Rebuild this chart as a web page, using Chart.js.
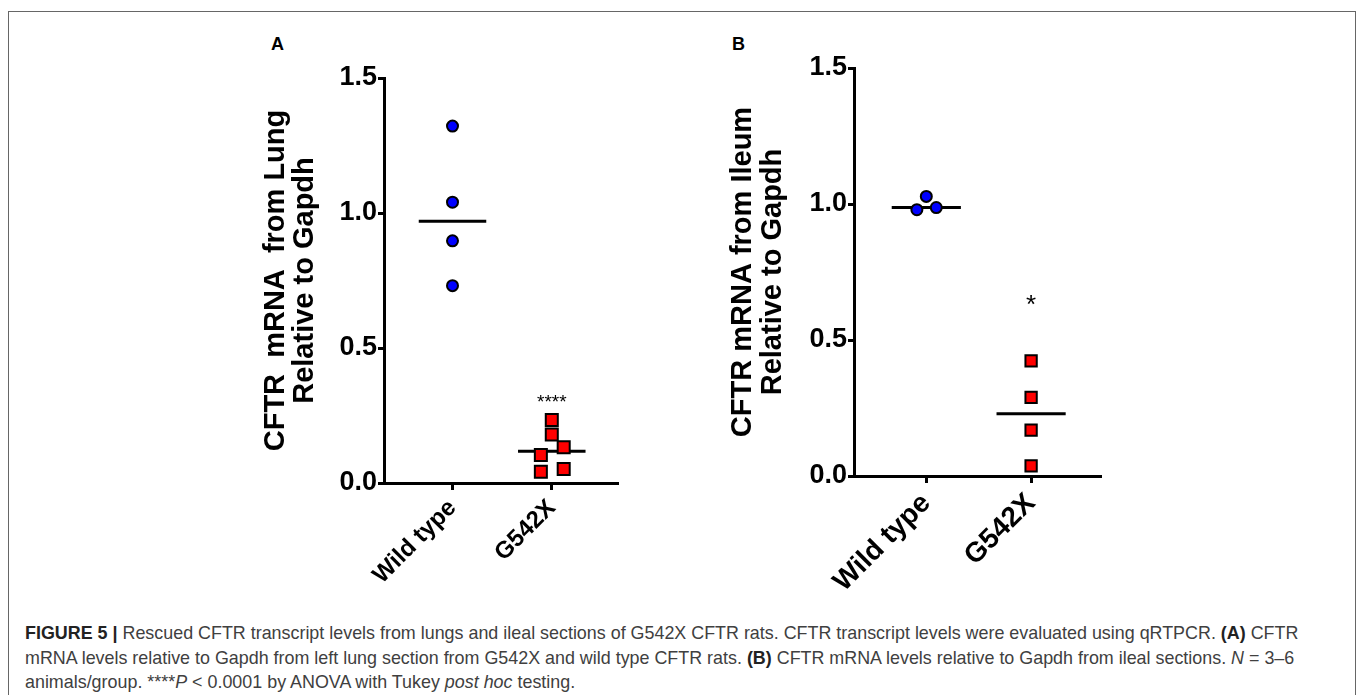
<!DOCTYPE html>
<html>
<head>
<meta charset="utf-8">
<script src="https://cdn.jsdelivr.net/npm/chart.js@4.4.1/dist/chart.umd.min.js"></script>
<style>
  body { margin: 0; width: 1357px; height: 695px; background: #fff; position: relative; overflow: hidden;
         font-family: "Liberation Sans", Arial, sans-serif; }
  #marco { position: absolute; left: 8px; top: 11px; width: 1346px; height: 720px;
           border: 1.5px solid #666; border-bottom: none; }
  .panel { position: absolute; }
  .letra { position: absolute; font-weight: bold; font-size: 18px; color: #000; line-height: 1; }
  #leyenda { position: absolute; left: 25px; top: 621px; font-size: 17.9px; line-height: 24.5px;
             color: #404040; white-space: nowrap; }
  #leyenda b { color: #222; }
</style>
</head>
<body>
<div id="marco"></div>
<div class="letra" style="left:271px;top:35px">A</div>
<div class="letra" style="left:732px;top:35px">B</div>
<canvas id="graficoA" class="panel" width="420" height="570" style="left:230px;top:20px"></canvas>
<canvas id="graficoB" class="panel" width="440" height="570" style="left:700px;top:20px"></canvas>
<div id="leyenda">
<b>FIGURE 5 |</b> Rescued CFTR transcript levels from lungs and ileal sections of G542X CFTR rats. CFTR transcript levels were evaluated using qRTPCR. <b>(A)</b> CFTR<br>
mRNA levels relative to Gapdh from left lung section from G542X and wild type CFTR rats. <b>(B)</b> CFTR mRNA levels relative to Gapdh from ileal sections. <i>N</i> = 3–6<br>
animals/group. ****<i>P</i> &lt; 0.0001 by ANOVA with Tukey <i>post hoc</i> testing.
</div>
<script>
// Grupos
const grupos = ['Wild type', 'G542X'];
const ticksY = [0, 0.5, 1.0, 1.5];

// Panel A - pulmon
const pulmonWT = [1.322, 1.040, 0.897, 0.731];
const pulmonWTdx = [0, 0, 0, 0];
const pulmonG542X = [0.233, 0.180, 0.132, 0.104, 0.042, 0.052];
const pulmonG542Xdx = [0, 0, 0.12, -0.11, -0.11, 0.12];
const pulmonMediana = [0.969, 0.118];
const pulmonSig = ['', '****'];
const pulmonSigNivel = [null, 0.318];

// Panel B - ileon
const ileonWT = [0.979, 1.028, 0.987];
const ileonWTdx = [-0.09, 0, 0.095];
const ileonG542X = [0.423, 0.289, 0.169, 0.037];
const ileonG542Xdx = [0, 0, 0, 0];
const ileonMediana = [0.987, 0.229];
const ileonSig = ['', '*'];
const ileonSigNivel = [null, 0.653];

const FUENTE = '"Liberation Sans", Arial, sans-serif';

function puntos(valores, dx, grupo) {
    return valores.map((v, i) => ({ x: grupo + dx[i], y: v }));
}

function lineaMediana(med, grupo, ancho) {
    return {
        type: 'line',
        data: [{ x: grupo - ancho, y: med }, { x: grupo + ancho, y: med }],
        borderColor: '#000',
        borderWidth: 3,
        pointRadius: 0,
        showLine: true,
        fill: false
    };
}

// Asteriscos de significancia sobre cada grupo
const pluginSig = {
    id: 'sig',
    afterDatasetsDraw(chart, args, opts) {
        const ctx = chart.ctx;
        const xs = chart.scales.x, ys = chart.scales.y;
        ctx.save();
        ctx.fillStyle = '#000';
        ctx.textAlign = 'center';
        ctx.textBaseline = 'alphabetic';
        ctx.font = opts.size + 'px ' + FUENTE;
        opts.textos.forEach((t, i) => {
            if (!t) return;
            const x = xs.getPixelForValue(i);
            const y = ys.getPixelForValue(opts.niveles[i]) + opts.size * 0.58;
            ctx.fillText(t, x, y);
        });
        ctx.restore();
    }
};

function crearGrafico(id, cfg) {
    const ctx = document.getElementById(id).getContext('2d');
    return new Chart(ctx, {
        type: 'scatter',
        data: {
            datasets: [
                {
                    data: puntos(cfg.wt, cfg.wtDx, 0),
                    pointStyle: 'circle',
                    pointRadius: cfg.radioCirculo,
                    backgroundColor: '#0000ff',
                    borderColor: '#000',
                    borderWidth: 2
                },
                {
                    data: puntos(cfg.mut, cfg.mutDx, 1),
                    pointStyle: 'rect',
                    pointRadius: cfg.radioCuadro,
                    backgroundColor: '#ff0000',
                    borderColor: '#000',
                    borderWidth: 2
                },
                lineaMediana(cfg.mediana[0], 0, cfg.anchoMediana),
                lineaMediana(cfg.mediana[1], 1, cfg.anchoMediana)
            ]
        },
        options: {
            responsive: false,
            animation: false,
            layout: { padding: cfg.padding },
            plugins: {
                legend: { display: false },
                tooltip: { enabled: false },
                sig: { textos: cfg.sig, niveles: cfg.sigNivel, size: cfg.sigSize }
            },
            scales: {
                x: {
                    type: 'linear',
                    min: -0.69,
                    max: 1.667,
                    afterBuildTicks: s => { s.ticks = grupos.map((g, i) => ({ value: i })); },
                    afterFit: s => { s.height = cfg.altoX; },
                    grid: { drawOnChartArea: false, tickLength: 7, tickWidth: 3, tickColor: '#000' },
                    border: { color: '#000', width: 3 },
                    ticks: {
                        callback: v => grupos[v],
                        minRotation: 45,
                        maxRotation: 45,
                        padding: 4,
                        color: '#000',
                        font: { family: FUENTE, size: cfg.sizeX, weight: 'bold' }
                    }
                },
                y: {
                    min: 0,
                    max: 1.5,
                    afterBuildTicks: s => { s.ticks = ticksY.map(v => ({ value: v })); },
                    afterFit: s => { s.width = 154; },
                    grid: { drawOnChartArea: false, tickLength: 6, tickWidth: 3, tickColor: '#000' },
                    border: { color: '#000', width: 3 },
                    ticks: {
                        callback: v => v.toFixed(1),
                        padding: 1,
                        color: '#000',
                        font: { family: FUENTE, size: 27, weight: 'bold' }
                    },
                    title: {
                        display: true,
                        text: cfg.tituloY,
                        color: '#000',
                        padding: { top: cfg.padTitulo, bottom: 0 },
                        font: { family: FUENTE, size: 29, weight: 'bold', lineHeight: cfg.lineaTitulo }
                    }
                }
            }
        },
        plugins: [pluginSig]
    });
}

crearGrafico('graficoA', {
    wt: pulmonWT, wtDx: pulmonWTdx,
    mut: pulmonG542X, mutDx: pulmonG542Xdx,
    mediana: pulmonMediana,
    sig: pulmonSig, sigNivel: pulmonSigNivel, sigSize: 19,
    radioCirculo: 5.5, radioCuadro: 8.5, anchoMediana: 0.34,
    padding: { left: 0, top: 58, right: 32, bottom: 0 },
    altoX: 107, sizeX: 24,
    tituloY: ['CFTR  mRNA  from Lung', 'Relative to Gapdh'],
    padTitulo: 31, lineaTitulo: 1.0
});

crearGrafico('graficoB', {
    wt: ileonWT, wtDx: ileonWTdx,
    mut: ileonG542X, mutDx: ileonG542Xdx,
    mediana: ileonMediana,
    sig: ileonSig, sigNivel: ileonSigNivel, sigSize: 26,
    radioCirculo: 5.5, radioCuadro: 8, anchoMediana: 0.33,
    padding: { left: 0, top: 48, right: 39, bottom: 0 },
    altoX: 114, sizeX: 28,
    tituloY: ['CFTR mRNA from Ileum', 'Relative to Gapdh'],
    padTitulo: 28, lineaTitulo: 1.03
});
</script>
</body>
</html>
